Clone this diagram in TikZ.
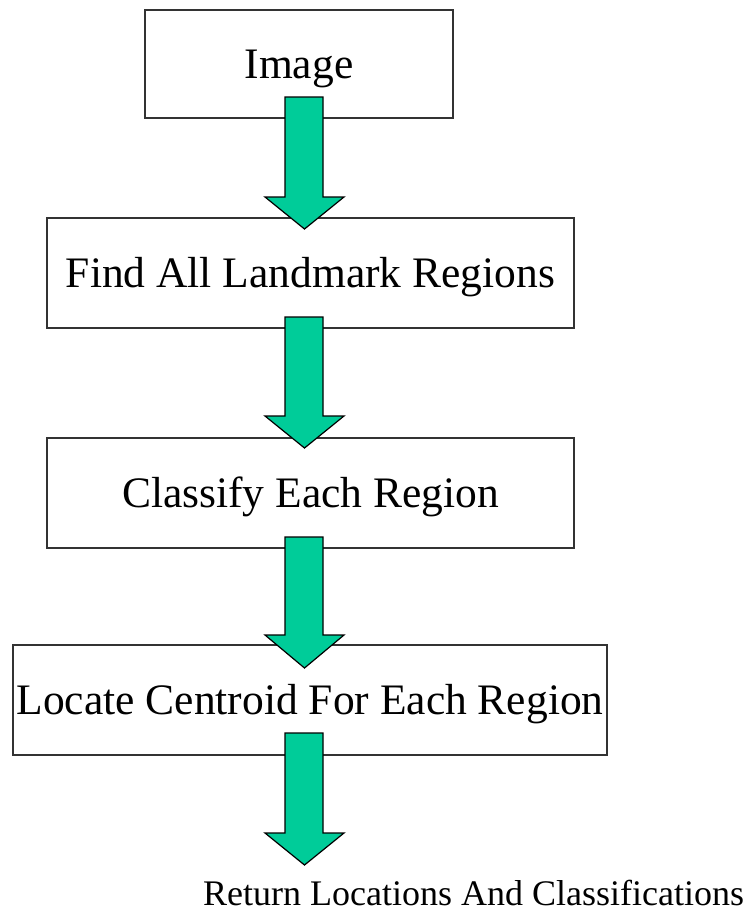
\documentclass[tikz,border=0pt]{standalone}
\usepackage{fontspec}
\setmainfont{Liberation Serif}
\definecolor{arrowgreen}{RGB}{0,204,153}
\definecolor{boxline}{RGB}{51,51,51}
\tikzset{
  stepbox/.style={draw=boxline, line width=1.3pt, fill=white, rectangle,
    inner sep=0pt, text height=28.5pt, text depth=0pt,
    font=\fontsize{43.5}{48}\selectfont},
  blockarrow/.style={draw=black, line width=1.2pt, fill=arrowgreen, line join=miter},
  endlabel/.style={inner sep=0pt, font=\fontsize{36}{40}\selectfont}
}
% block arrow: #1 = top of shaft, #2 = shoulder of head, #3 = tip (all y values)
\newcommand{\flowarrow}[3]{%
  \draw[blockarrow] (285,#1) -- (323,#1) -- (323,#2) -- (344,#2) --
    (304.5,#3) -- (265,#2) -- (285,#2) -- cycle;}
\begin{document}
\begin{tikzpicture}[x=1pt,y=-1pt]
  \useasboundingbox (0,0) rectangle (751,911);
  % process steps
  \node[stepbox, minimum width=308pt, minimum height=108pt] (img) at (299,64) {Image};
  \node[stepbox, minimum width=527pt, minimum height=110pt] (find) at (310.5,273) {Find All Landmark Regions};
  \node[stepbox, minimum width=527pt, minimum height=110pt] (classify) at (310.5,493) {Classify Each Region};
  \node[stepbox, minimum width=594pt, minimum height=110pt] (locate) at (310,700) {Locate Centroid For Each Region};
  \node[endlabel, anchor=base west] (result) at (203,905) {Return Locations And Classifications};
  % block arrows linking the steps
  \flowarrow{97}{197}{229}
  \flowarrow{317}{416}{448}
  \flowarrow{537}{635}{668}
  \flowarrow{733}{833}{865}
\end{tikzpicture}
\end{document}
